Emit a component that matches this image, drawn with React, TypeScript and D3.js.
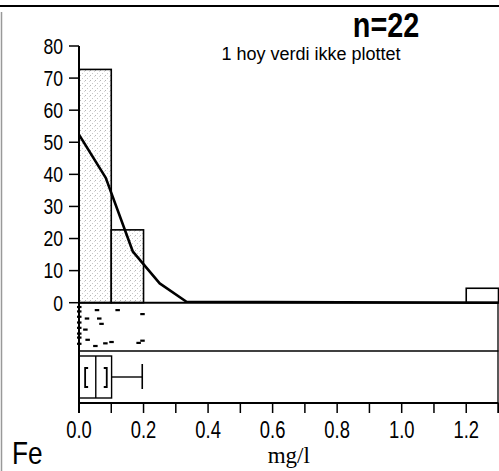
import { useEffect, useRef } from "react";
import * as d3 from "d3";

// histogram, percent of samples per 0.1 mg/l class
const binStart = [0.0, 0.1, 1.2];
const binPercent = [72.7, 22.7, 4.5];
const binOffScale = [false, false, true];
const binWidth = 0.1;

// smoothed density curve (percent)
const curveX = [0.0, 0.083, 0.167, 0.25, 0.333, 1.3];
const curveY = [52.4, 38.9, 15.9, 6.0, 0.3, 0.0];

// single observations (mg/l) and their vertical jitter in the strip (0..1)
const rugValue = [0, 0, 0, 0, 0, 0, 0, 0, 0.055, 0.119, 0.024, 0.062, 0.069, 0.196, 0.019, 0.026, 0.05, 0.081, 0.1, 0.184, 0.196];
const rugJitter = [0.05, 0.15, 0.27, 0.4, 0.52, 0.65, 0.74, 0.88, 0.12, 0.12, 0.31, 0.31, 0.43, 0.21, 0.56, 0.79, 0.93, 0.87, 0.84, 0.86, 0.81];

// box plot summary
const boxStats = { q1: 0.0, median: 0.052, q3: 0.101, whiskerHigh: 0.196, ciLow: 0.019, ciHigh: 0.086 };

const yTicks = [0, 10, 20, 30, 40, 50, 60, 70, 80];
const xMinorTicks = [0, 0.1, 0.2, 0.3, 0.4, 0.5, 0.6, 0.7, 0.8, 0.9, 1.0, 1.1, 1.2, 1.3];
const xLabels = [0, 0.2, 0.4, 0.6, 0.8, 1.0, 1.2];

const sampleCount = "n=22";
const note = "1 hoy verdi ikke plottet";
const element = "Fe";
const unit = "mg/l";

export default function App() {
  const ref = useRef<SVGSVGElement | null>(null);

  useEffect(() => {
    document.body.style.margin = "0";
    const svg = d3.select(ref.current);
    svg.selectAll("*").remove();

    const width = 499;
    const height = 471;
    const sans = "'Liberation Sans', Arial, sans-serif";

    const x = d3.scaleLinear().domain([0, 1.3]).range([79, 498.5]);
    const y = d3.scaleLinear().domain([0, 80]).range([302.7, 46]);
    const rugTop = y(0);
    const rugBottom = 351;
    const boxTop = 356;
    const boxBottom = 398;
    const axisY = 403;

    svg.attr("viewBox", `0 0 ${width} ${height}`).attr("width", width).attr("height", height);

    // no condensed face installed, so squeeze Liberation Sans horizontally
    const narrowText = (
      parent: d3.Selection<any, unknown, null, undefined>,
      tx: number,
      ty: number,
      anchor: string,
      size: number,
      txt: string,
      sx = 0.8,
      weight = 400
    ) =>
      parent
        .append("text")
        .attr("transform", `translate(${tx},${ty}) scale(${sx},1)`)
        .attr("text-anchor", anchor)
        .attr("font-family", sans)
        .attr("font-size", size)
        .attr("font-weight", weight)
        .text(txt);

    // stipple fill
    const defs = svg.append("defs");
    const pat = defs
      .append("pattern")
      .attr("id", "stipple")
      .attr("patternUnits", "userSpaceOnUse")
      .attr("width", 5)
      .attr("height", 5);
    pat.append("rect").attr("width", 5).attr("height", 5).attr("fill", "#fff");
    pat.append("rect").attr("x", 0).attr("y", 0).attr("width", 1).attr("height", 1).attr("fill", "#b5b5b5");
    pat.append("rect").attr("x", 2).attr("y", 3).attr("width", 1).attr("height", 1).attr("fill", "#c8c8c8");
    pat.append("rect").attr("x", 4).attr("y", 1).attr("width", 1).attr("height", 1).attr("fill", "#d8d8d8");

    svg.append("rect").attr("width", width).attr("height", height).attr("fill", "#fff");

    // page frame pieces
    svg.append("line").attr("x1", 0).attr("x2", width).attr("y1", 6).attr("y2", 6).attr("stroke", "#000").attr("stroke-width", 2);
    svg.append("line").attr("x1", 1.5).attr("x2", 1.5).attr("y1", 12).attr("y2", height).attr("stroke", "#999").attr("stroke-width", 1.5);

    // histogram bars
    svg
      .append("g")
      .selectAll("rect")
      .data(binStart.map((s, i) => ({ s, p: binPercent[i], off: binOffScale[i] })))
      .enter()
      .append("rect")
      .attr("x", (d) => x(d.s))
      .attr("y", (d) => y(d.p))
      .attr("width", (d) => x(d.s + binWidth) - x(d.s))
      .attr("height", (d) => y(0) - y(d.p))
      .attr("fill", (d) => (d.off ? "#fff" : "url(#stipple)"))
      .attr("stroke", "#000")
      .attr("stroke-width", 1.6);

    // density curve
    const line = d3
      .line<number>()
      .x((_, i) => x(curveX[i]))
      .y((d) => y(d));
    svg
      .append("path")
      .attr("d", line(curveY) ?? "")
      .attr("fill", "none")
      .attr("stroke", "#000")
      .attr("stroke-width", 2.6)
      .attr("stroke-linejoin", "round");

    // panel lines
    const hl = (yy: number, w: number) =>
      svg.append("line").attr("x1", x(0)).attr("x2", x(1.3)).attr("y1", yy).attr("y2", yy).attr("stroke", "#000").attr("stroke-width", w);
    hl(rugTop, 2);
    hl(rugBottom, 1.6);
    hl(axisY, 2);
    svg.append("line").attr("x1", x(1.3) - 0.5).attr("x2", x(1.3) - 0.5).attr("y1", rugTop).attr("y2", axisY + 10).attr("stroke", "#000").attr("stroke-width", 1.3);

    // rug strip
    const rugH = rugBottom - rugTop - 4;
    svg
      .append("g")
      .selectAll("rect")
      .data(rugValue.map((v, i) => ({ v, j: rugJitter[i] })))
      .enter()
      .append("rect")
      .attr("x", (d) => x(d.v) - 2)
      .attr("y", (d) => rugTop + 2 + d.j * rugH - 1)
      .attr("width", 4.5)
      .attr("height", 2.2)
      .attr("fill", "#000");

    // box plot
    const bm = (boxTop + boxBottom) / 2;
    const box = svg.append("g").attr("stroke", "#000").attr("fill", "none");
    box.append("rect").attr("x", x(boxStats.q1)).attr("y", boxTop).attr("width", x(boxStats.q3) - x(boxStats.q1)).attr("height", boxBottom - boxTop).attr("stroke-width", 1.4);
    box.append("line").attr("x1", x(boxStats.median)).attr("x2", x(boxStats.median)).attr("y1", boxTop).attr("y2", boxBottom).attr("stroke-width", 1.4);
    box.append("line").attr("x1", x(boxStats.q3)).attr("x2", x(boxStats.whiskerHigh)).attr("y1", bm).attr("y2", bm).attr("stroke-width", 1.4);
    box.append("line").attr("x1", x(boxStats.whiskerHigh)).attr("x2", x(boxStats.whiskerHigh)).attr("y1", bm - 13).attr("y2", bm + 12).attr("stroke-width", 1.6);
    const bt = bm - 9;
    const bb = bm + 10;
    const bracket = (xx: number, dir: number) =>
      box
        .append("path")
        .attr("d", `M${xx + dir * 3},${bt} H${xx} V${bb} H${xx + dir * 3}`)
        .attr("stroke-width", 1.8);
    bracket(x(boxStats.ciLow), 1);
    bracket(x(boxStats.ciHigh), -1);

    // y axis
    const yAxis = svg.append("g");
    yAxis.append("line").attr("x1", x(0)).attr("x2", x(0)).attr("y1", y(80)).attr("y2", axisY + 10).attr("stroke", "#000").attr("stroke-width", 2);
    yTicks.forEach((t) => {
      yAxis.append("line").attr("x1", x(0) - 10).attr("x2", x(0)).attr("y1", y(t)).attr("y2", y(t)).attr("stroke", "#000").attr("stroke-width", 1.5);
      narrowText(yAxis, x(0) - 16, y(t) + 7.8, "end", 22, String(t), 0.8);
    });

    // x axis
    const xAxis = svg.append("g");
    xMinorTicks.forEach((t) => {
      xAxis.append("line").attr("x1", x(t)).attr("x2", x(t)).attr("y1", axisY).attr("y2", axisY + 10).attr("stroke", "#000").attr("stroke-width", 1.5);
    });
    xLabels.forEach((t) => narrowText(xAxis, x(t), 438, "middle", 23, d3.format(".1f")(t), 0.8));

    svg.append("text").attr("x", (x(0) + x(1.3)) / 2).attr("y", 463).attr("text-anchor", "middle").attr("font-family", "'Liberation Serif', 'Times New Roman', serif").attr("font-size", 23).text(unit);
    narrowText(svg, 12, 464, "start", 32, element, 0.82);

    narrowText(svg, 386, 37, "middle", 36, sampleCount, 0.8, 700);
    svg.append("text").attr("x", 311).attr("y", 60).attr("text-anchor", "middle").attr("font-family", sans).attr("font-size", 18).text(note);
  }, []);

  return <svg ref={ref} style={{ display: "block" }} />;
}
